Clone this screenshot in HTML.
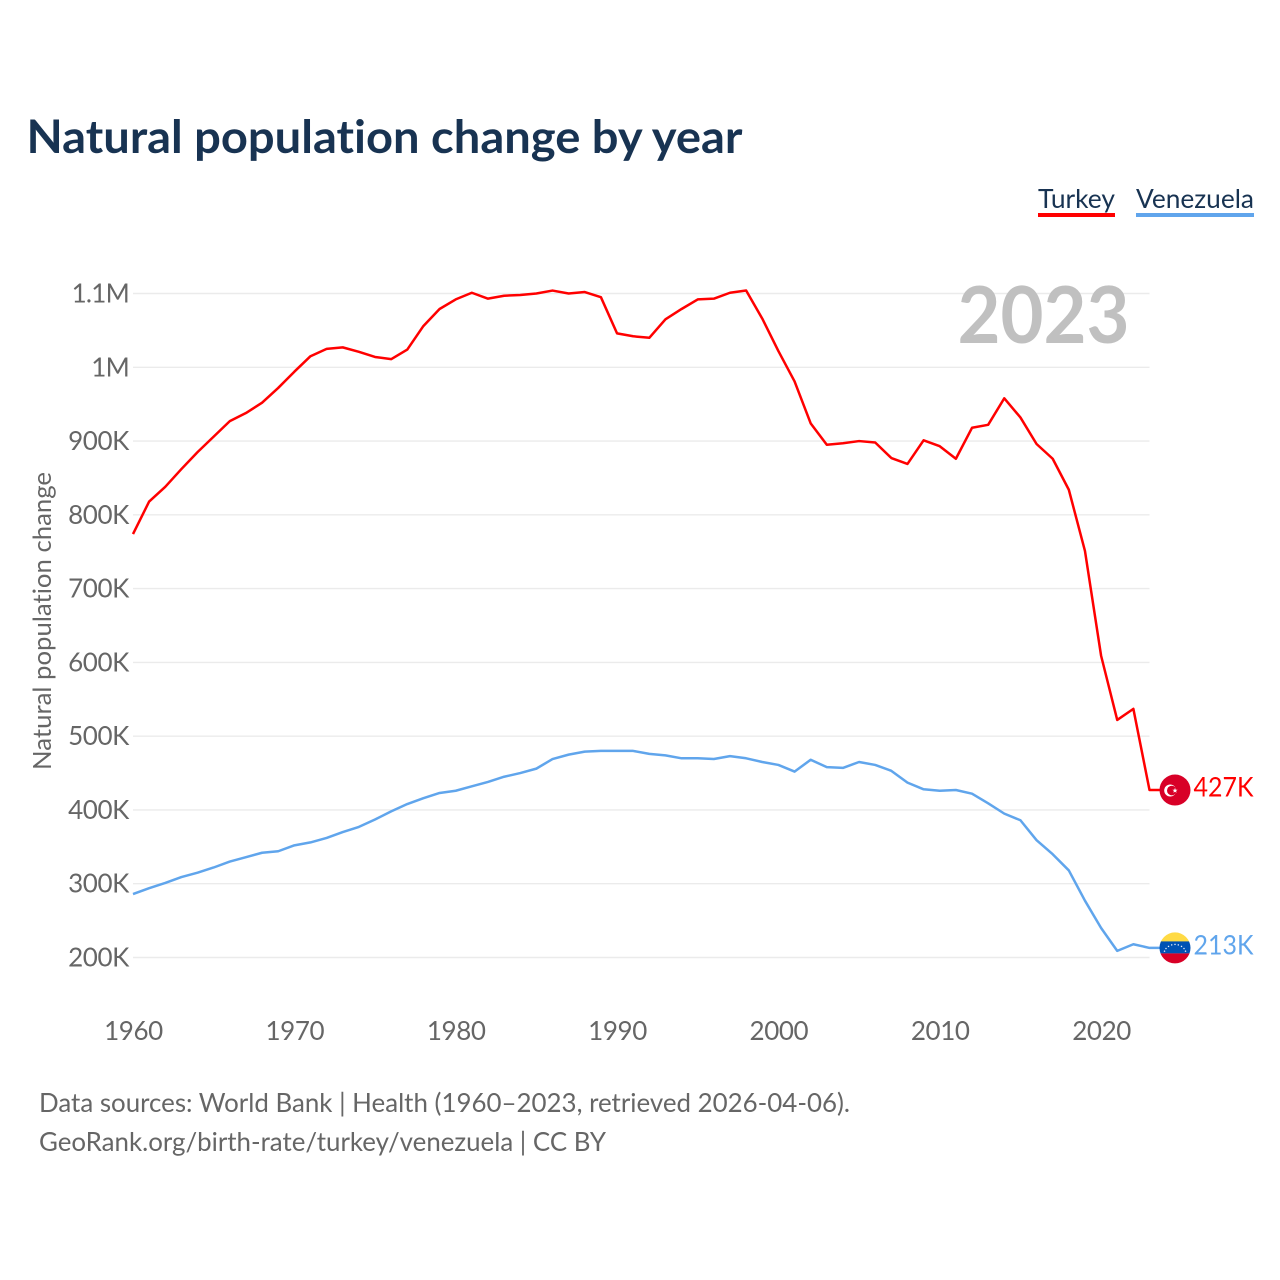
<!DOCTYPE html>
<html lang="en">
<head>
<meta charset="utf-8">
<title>Natural population change by year</title>
<style>
html,body{margin:0;padding:0;background:#fff;width:1280px;height:1280px;overflow:hidden}
svg{display:block}
text{font-family:"Lato","Carlito","Liberation Sans",sans-serif;font-variant-ligatures:none;font-feature-settings:"liga" 0,"clig" 0}
.tick{font-size:26px;fill:#666;letter-spacing:-0.4px}
</style>
</head>
<body>
<svg id="chart" width="1280" height="1280" viewBox="0 0 1280 1280" xmlns="http://www.w3.org/2000/svg">
  <defs>
    <clipPath id="ve-clip"><circle cx="0" cy="0" r="15.5"/></clipPath>
  </defs>
  <text x="26.5" y="153" font-size="46" font-weight="700" fill="#183352" textLength="716" lengthAdjust="spacingAndGlyphs">Natural population change by year</text>

  <text x="1038" y="208" font-size="26.5" fill="#183352" textLength="77" lengthAdjust="spacingAndGlyphs">Turkey</text>
  <rect x="1038" y="213" width="77" height="4" fill="#ff0000"/>
  <text x="1136" y="208" font-size="26.5" fill="#183352" textLength="118" lengthAdjust="spacingAndGlyphs">Venezuela</text>
  <rect x="1136" y="213" width="118" height="4" fill="#60a5ec"/>

  <text transform="translate(51 621) rotate(-90)" text-anchor="middle" font-size="25.5" fill="#666" textLength="298" lengthAdjust="spacingAndGlyphs">Natural population change</text>

  <g id="grid"></g>
  <g id="y-ticks"></g>
  <g id="x-ticks"></g>

  <text x="1129.5" y="343" text-anchor="end" font-size="79" font-weight="700" fill="#c0c0c0" textLength="172" lengthAdjust="spacingAndGlyphs">2023</text>

  <path id="line-turkey" fill="none" stroke="#ff0000" stroke-width="2.5" stroke-linejoin="round"/>
  <path id="line-venezuela" fill="none" stroke="#60a5ec" stroke-width="2.5" stroke-linejoin="round"/>

  <g id="flag-turkey">
    <circle r="15.5" fill="#d80027"/>
    <circle cx="-4.8" cy="0.5" r="6" fill="#fff"/>
    <circle cx="-3.2" cy="0.5" r="4.8" fill="#d80027"/>
    <polygon transform="translate(-4 0.5)" points="4,-2.6 4.7,-0.8 6.6,-0.8 5.1,0.4 5.6,2.2 4,1.2 2.4,2.2 2.9,0.4 1.4,-0.8 3.3,-0.8" fill="#fff"/>
  </g>
  <g id="flag-venezuela">
    <g clip-path="url(#ve-clip)">
      <rect x="-16" y="-16" width="32" height="9.7" fill="#ffda44"/>
      <rect x="-16" y="-6.5" width="32" height="12" fill="#0052b4"/>
      <rect x="-16" y="5.5" width="32" height="11" fill="#d80027"/>
    </g>
    <g fill="#e8eef8">
      <circle cx="-10.5" cy="3.2" r="0.75"/><circle cx="-9" cy="0.6" r="0.75"/><circle cx="-6.5" cy="-1.5" r="0.75"/><circle cx="-3.3" cy="-3" r="0.75"/><circle cx="0" cy="-3.5" r="0.75"/><circle cx="3.3" cy="-3" r="0.75"/><circle cx="6.5" cy="-1.5" r="0.75"/><circle cx="9" cy="0.6" r="0.75"/><circle cx="10.5" cy="3.2" r="0.75"/>
    </g>
  </g>

  <text id="value-turkey" x="1193.5" font-size="27" fill="#ff0000" textLength="60" lengthAdjust="spacingAndGlyphs"></text>
  <text id="value-venezuela" x="1193.5" font-size="27" fill="#60a5ec" textLength="60" lengthAdjust="spacingAndGlyphs"></text>

  <text x="39" y="1112" font-size="26.5" fill="#666" textLength="811" lengthAdjust="spacingAndGlyphs">Data sources: World Bank | Health (1960–2023, retrieved 2026-04-06).</text>
  <text x="39" y="1151" font-size="26.5" fill="#666" textLength="567" lengthAdjust="spacingAndGlyphs">GeoRank.org/birth-rate/turkey/venezuela | CC BY</text>
</svg>
<script>
const startYear = 1960;
const turkeyValues = [774,818,838,862,885,906,927,938,952,972,994,1015,1025,1027,1021,1014,1011,1024,1056,1079,1092,1101,1093,1097,1098,1100,1104,1100,1102,1095,1046,1042,1040,1065,1079,1092,1093,1101,1104,1066,1022,981,924,895,897,900,898,877,869,901,893,876,918,922,958,932,896,876,834,751,609,522,537,427];
const venezuelaValues = [286,294,301,309,315,322,330,336,342,344,352,356,362,370,377,387,398,408,416,423,426,432,438,445,450,456,469,475,479,480,480,480,476,474,470,470,469,473,470,465,461,452,468,458,457,465,461,453,437,428,426,427,422,409,395,386,359,340,318,277,240,209,218,213];
const yTickValues = [200,300,400,500,600,700,800,900,1000,1100];
const yTickLabels = ['200K','300K','400K','500K','600K','700K','800K','900K','1M','1.1M'];
const xTickYears = [1960,1970,1980,1990,2000,2010,2020];
const xTickLabels = ['1960','1970','1980','1990','2000','2010','2020'];

const NS = 'http://www.w3.org/2000/svg';
const plotLeft = 133, plotRight = 1149.5;
const yearCount = turkeyValues.length - 1;
function xScale(year){ return plotLeft + (year - startYear) * (plotRight - plotLeft) / yearCount; }
function yScale(v){ return 957.5 - (v - 200) * (957.5 - 293.5) / 900; }
function linePath(values){
  let d = values.map(function(v,i){ return (i ? 'L' : 'M') + xScale(startYear + i).toFixed(2) + ' ' + yScale(v).toFixed(2); }).join('');
  return d + 'L1160 ' + yScale(values[values.length-1]).toFixed(2);
}
const grid = document.getElementById('grid');
const yTicks = document.getElementById('y-ticks');
const xTicks = document.getElementById('x-ticks');
yTickValues.forEach(function(v,i){
  const l = document.createElementNS(NS,'line');
  l.setAttribute('x1',plotLeft);
  l.setAttribute('x2',plotRight);
  l.setAttribute('y1',yScale(v));
  l.setAttribute('y2',yScale(v));
  l.setAttribute('stroke','#ebebeb');
  l.setAttribute('stroke-width','1.4');
  
  
  grid.appendChild(l);
  const t = document.createElementNS(NS,'text');
  t.setAttribute('x',129);
  t.setAttribute('y',yScale(v)+9);
  t.setAttribute('text-anchor','end');
  t.setAttribute('class','tick');
  if (yTickLabels[i].endsWith('M')) t.style.letterSpacing = '-0.75px';
  t.textContent = yTickLabels[i];
  
  
  yTicks.appendChild(t);
});
xTickYears.forEach(function(y,i){
  const t = document.createElementNS(NS,'text');
  t.setAttribute('x',xScale(y)+0.5);
  t.setAttribute('y',1040);
  t.setAttribute('text-anchor','middle');
  t.setAttribute('class','tick');
  t.textContent = xTickLabels[i];
  
  
  xTicks.appendChild(t);
});
function fmt(v){ return Math.round(v) + 'K'; }
function place(key, values){
  const last = values[values.length-1];
  const yy = yScale(last);
  document.getElementById('line-'+key).setAttribute('d', linePath(values));
  document.getElementById('flag-'+key).setAttribute('transform','translate(1175 '+yy+')');
  const t = document.getElementById('value-'+key);
  t.setAttribute('y', yy + 6.5);
  t.textContent = fmt(last);
}
place('turkey', turkeyValues);
place('venezuela', venezuelaValues);
</script>
</body>
</html>
